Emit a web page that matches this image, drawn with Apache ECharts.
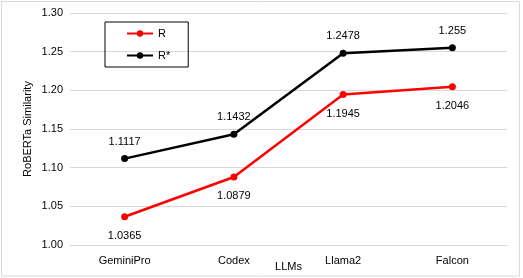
<!DOCTYPE html>
<html><head><meta charset="utf-8">
<script src="https://cdn.jsdelivr.net/npm/echarts@6/dist/echarts.min.js"></script>
<style>html,body{margin:0;padding:0;background:#fff}#c{width:523px;height:278px;position:relative}</style>
</head><body><div id="c"></div>
<script>
const categories = ['GeminiPro', 'Codex', 'Llama2', 'Falcon'];
const seriesR = [1.0365, 1.0879, 1.1945, 1.2046];
const seriesRStar = [1.1117, 1.1432, 1.2478, 1.255];
const yTicks = { min: 1.0, max: 1.3, interval: 0.05 };

const font = 'Liberation Sans';
const chart = echarts.init(document.getElementById('c'), null, { renderer: 'canvas' });
chart.setOption({
  animation: false,
  backgroundColor: '#fff',
  textStyle: { fontFamily: font },
  graphic: [{ type: 'rect', shape: { x: 1.5, y: 1.5, width: 518, height: 274.5 }, style: { fill: 'none', stroke: '#d9d9d9', lineWidth: 1 } }],
  grid: { left: 70, right: 16, top: 13, bottom: 33, outerBoundsMode: 'none', containLabel: false },
  legend: {
    orient: 'vertical', left: 105, top: 22,
    borderColor: '#000', borderWidth: 1, padding: [6, 18, 6, 21], itemGap: 11,
    itemWidth: 26, itemHeight: 8,
    textStyle: { fontFamily: font, fontSize: 11, color: '#000' },
    data: ['R', 'R*']
  },
  xAxis: {
    type: 'category', data: categories, boundaryGap: true,
    name: 'LLMs', nameLocation: 'middle', nameGap: 16, nameMoveOverlap: false,
    nameTextStyle: { fontFamily: font, fontSize: 11, color: '#000', verticalAlign: 'top' },
    axisLine: { lineStyle: { color: '#d9d9d9' } }, axisTick: { show: false },
    axisLabel: { fontFamily: font, fontSize: 11, color: '#000', margin: 10 }
  },
  yAxis: {
    type: 'value', min: yTicks.min, max: yTicks.max, interval: yTicks.interval,
    name: 'RoBERTa Similarity', nameLocation: 'middle', nameGap: 37, nameMoveOverlap: false,
    nameTextStyle: { fontFamily: font, fontSize: 11, color: '#000' },
    axisLine: { show: false }, axisTick: { show: false },
    axisLabel: { fontFamily: font, fontSize: 11, color: '#000', margin: 7, formatter: v => v.toFixed(2) },
    splitLine: { lineStyle: { color: '#d9d9d9' } }
  },
  series: [
    { name: 'R', type: 'line', data: seriesR, color: '#ff0000', symbol: 'circle', symbolSize: 7,
      lineStyle: { width: 2.5, color: '#ff0000' }, itemStyle: { color: '#ff0000' },
      label: { show: true, position: 'bottom', distance: 10, fontFamily: font, fontSize: 11, color: '#000' } },
    { name: 'R*', type: 'line', data: seriesRStar, color: '#000', symbol: 'circle', symbolSize: 7,
      lineStyle: { width: 2.5, color: '#000' }, itemStyle: { color: '#000' },
      label: { show: true, position: 'top', distance: 8, fontFamily: font, fontSize: 11, color: '#000', formatter: p => String(p.value) } }
  ]
});
</script></body></html>
